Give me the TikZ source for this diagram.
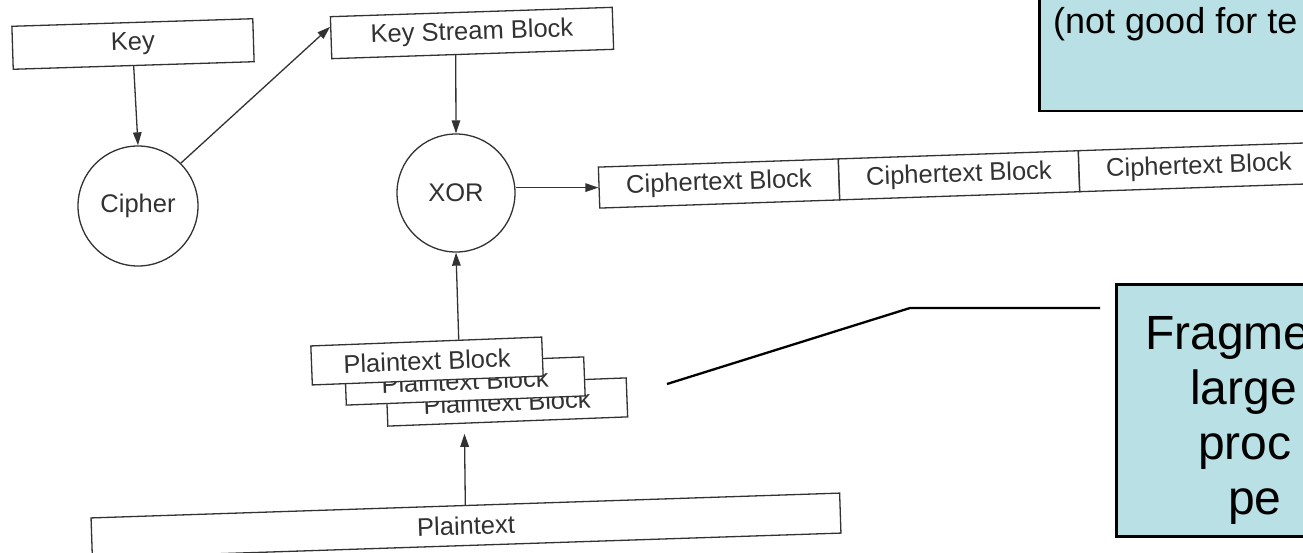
\documentclass[tikz,border=0pt]{standalone}
\usepackage{fontspec}
\setmainfont{Liberation Sans}
\usetikzlibrary{arrows.meta,calc}
\definecolor{ink}{RGB}{50,50,50}
\definecolor{notefill}{RGB}{185,224,228}
\begin{document}
\begin{tikzpicture}[x=1pt,y=-1pt,
  every node/.style={font=\fontsize{25.5}{30}\selectfont, text=ink},
  blk/.style={draw=ink, line width=1.3pt, fill=white, inner sep=0pt},
  circ/.style={draw=ink, line width=1.3pt, circle, inner sep=0pt},
  arr/.style={draw=ink, line width=1.3pt, -{Triangle[length=13pt,width=8.5pt]}},
  note/.style={draw=black, line width=2.5pt, fill=notefill, inner sep=0pt},
  notetext/.style={text=black, inner sep=0pt, anchor=base west},
  leader/.style={draw=black, line width=2.3pt}]
\useasboundingbox (0,0) rectangle (1303,552);
\clip (0,0) rectangle (1303,552);
\fill[white] (0,0) rectangle (1303,552);

% top blocks
\node[blk, minimum width=241, minimum height=43, rotate=1.8] (key) at (133,44) {Key};
\node[blk, minimum width=282, minimum height=42, rotate=1.9] (ksb) at (472,33) {Key Stream Block};
\node[circ, minimum size=120] (cipher) at (138,206) {Cipher};
\node[circ, minimum size=118] (xor) at (456,193) {XOR};

% ciphertext row
\node[blk, minimum width=240, minimum height=41, rotate=1.95] (c1) at (719,183.5) {Ciphertext Block};
\node[blk, minimum width=240, minimum height=41, rotate=1.95] (c2) at (959,175.3) {Ciphertext Block};
\node[blk, minimum width=240, minimum height=41, rotate=1.95] (c3) at (1199,167.1) {Ciphertext Block};

% plaintext block stack
\node[blk, minimum width=240, minimum height=39, rotate=2.2] (b3) at (507,402) {Plaintext Block};
\node[blk, minimum width=239, minimum height=39, rotate=2.2] (b2) at (465,381) {Plaintext Block};
\node[blk, minimum width=231, minimum height=39, rotate=2.2] (b1) at (427,361) {Plaintext Block};

% plaintext
\node[blk, minimum width=749, minimum height=40, rotate=1.9] (pt) at (466,525.5) {Plaintext};

% connectors
\draw[arr] (key.south) -- (cipher.north);
\draw[arr] (cipher.45) -- ($(ksb.north west)!0.25!(ksb.south west)$);
\draw[arr] ($(ksb.south west)!0.44!(ksb.south east)$) -- (xor.north);
\draw[arr] (xor.east |- c1.west) -- (c1.west);
\draw[arr] ($(b1.north west)!0.64!(b1.north east)$) -- (xor.south);
\draw[arr, shorten >=10pt] (pt.north) -- ($(b3.south west)!0.32!(b3.south east)$);

% callout notes
\node[note, minimum width=300, minimum height=140, anchor=south west] (note1) at (1038,112) {};
\node[notetext, font=\fontsize{36}{43}\selectfont] (n1) at (1053,33) {(not good for te};

\node[note, minimum width=230, minimum height=252, anchor=north west] (note2) at (1115,283) {};
\node[notetext, font=\fontsize{48}{56}\selectfont] (n2a) at (1145,349) {Fragme};
\node[notetext, font=\fontsize{48}{56}\selectfont] (n2b) at (1190,404) {large};
\node[notetext, font=\fontsize{48}{56}\selectfont] (n2c) at (1198,459) {proc};
\node[notetext, font=\fontsize{48}{56}\selectfont] (n2d) at (1228,514) {pe};

% leader line
\coordinate (l1) at (667,384);
\coordinate (l2) at (910,308);
\coordinate (l3) at (1100,308);
\draw[leader] (l1) -- (l2) -- (l3);
\end{tikzpicture}
\end{document}
